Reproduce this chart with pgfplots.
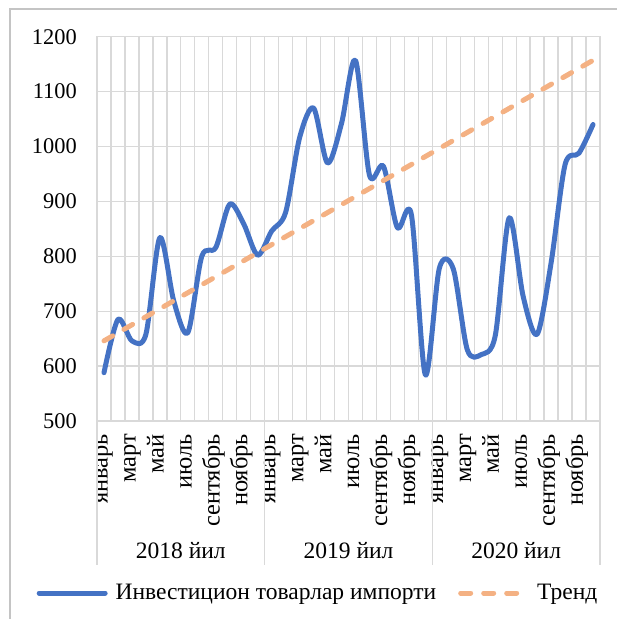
\documentclass[border=0pt]{standalone}
\usepackage{pgfplots}
\pgfplotsset{compat=1.18}
\usepackage{fontspec}
\setmainfont{Liberation Serif}

\definecolor{lineblue}{HTML}{4472C4}
\definecolor{trendorange}{HTML}{F4B183}
\definecolor{gridgray}{HTML}{D9D9D9}
\definecolor{framegray}{HTML}{C4C4C4}

\newcommand{\tickfont}{\fontsize{22.5}{26}\selectfont}
\newcommand{\monthfont}{\fontsize{24.5}{28}\selectfont}
\newcommand{\labelfont}{\fontsize{23.6}{27}\selectfont}

\begin{document}
\begin{tikzpicture}
\begin{axis}[
  name=ax,
  width=503bp, height=384.3bp, scale only axis,
  clip=false,
  xmin=-0.5, xmax=35.5, ymin=500, ymax=1200,
  ytick={500,600,...,1200},
  xtick={0,2,...,34},
  xticklabels={январь,март,май,июль,сентябрь,ноябрь,
               январь,март,май,июль,сентябрь,ноябрь,
               январь,март,май,июль,сентябрь,ноябрь},
  minor xtick={-0.5,0.5,...,35.5},
  xminorgrids, ymajorgrids,
  grid style={gridgray, line width=1.3bp},
  minor grid style={gridgray, line width=1.3bp},
  axis line style={gridgray, line width=1.3bp},
  major tick length=0pt, minor tick length=0pt,
  /pgf/number format/assume math mode=true,
  /pgf/number format/1000 sep={},
  xticklabel style={rotate=90, anchor=east, inner sep=0pt, font=\monthfont,
    text height=0.9em, text depth=0.15em},
  xticklabel shift=13bp,
  yticklabel style={inner sep=0pt, font=\tickfont},
  yticklabel shift=20bp,
  legend style={at={(0.4394,-0.4476)}, anchor=center, draw=none, fill=none,
    font=\labelfont, legend columns=2,
    /tikz/every odd column/.append style={column sep=6bp},
    /tikz/every even column/.append style={column sep=20bp}},
  legend image code/.code={\draw[#1, line cap=round] (0bp,0bp) -- (66bp,0bp);},
]
\addplot[lineblue, line width=5bp, line join=round, line cap=round, smooth, tension=0.5] coordinates {
  (0,588) (1,685) (2,646) (3,658) (4,834) (5,718) (6,661) (7,800) (8,816) (9,895) (10,859) (11,802)
  (12,846) (13,880) (14,1016) (15,1070) (16,970) (17,1042) (18,1157) (19,948) (20,964) (21,852) (22,876) (23,584)
  (24,778) (25,777) (26,630) (27,621) (28,655) (29,870) (30,727) (31,658) (32,788) (33,967) (34,988) (35,1040)
};
\addlegendentry{Инвестицион товарлар импорти}
\addplot[trendorange, line width=5bp, line cap=round, dash pattern=on 10bp off 13bp] coordinates {
  (0,646) (35,1157)
};
\addlegendentry{Тренд}
\draw[gridgray, line width=1.3bp] (axis cs:-0.5,500) -- ++(0bp,-144bp);
\draw[gridgray, line width=1.3bp] (axis cs:11.5,500) -- ++(0bp,-144bp);
\draw[gridgray, line width=1.3bp] (axis cs:23.5,500) -- ++(0bp,-144bp);
\draw[gridgray, line width=1.3bp] (axis cs:35.5,500) -- ++(0bp,-144bp);
\node[font=\labelfont, yshift=-130bp] at (axis cs:5.5,500) {2018 йил};
\node[font=\labelfont, yshift=-130bp] at (axis cs:17.5,500) {2019 йил};
\node[font=\labelfont, yshift=-130bp] at (axis cs:29.5,500) {2020 йил};
\end{axis}
\coordinate (O) at ([xshift=-97bp,yshift=-198bp]ax.south west);
\pgfresetboundingbox
\path[use as bounding box] (O) rectangle ([xshift=617bp,yshift=619bp]O);
\draw[framegray, line width=1.5bp] ([xshift=10bp,yshift=-5bp]O) -- ([xshift=10bp,yshift=610bp]O) -- ([xshift=630bp,yshift=610bp]O);
\end{tikzpicture}
\end{document}
